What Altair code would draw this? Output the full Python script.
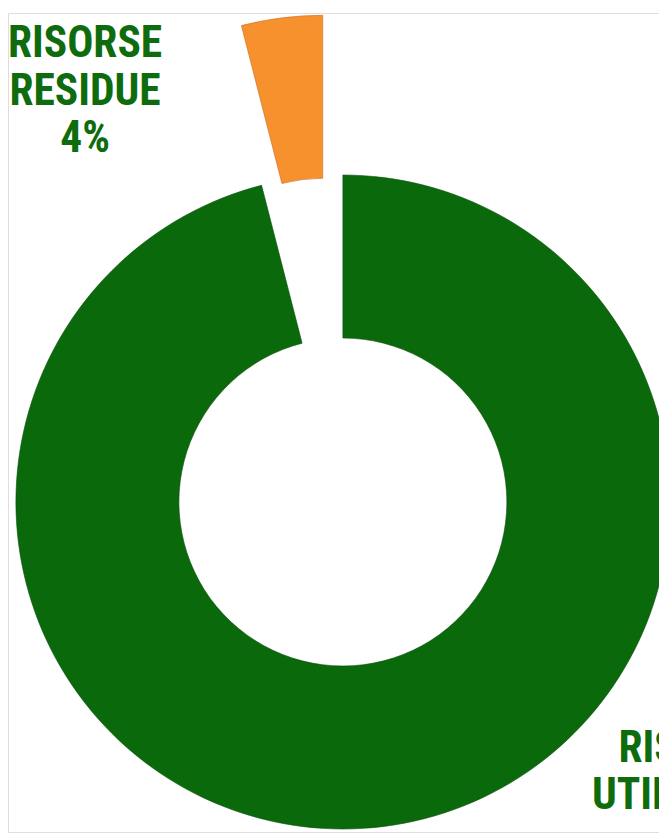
import math
import altair as alt
import pandas as pd

# ---- data ----
categories = ["RISORSE UTILIZZATE", "RISORSE RESIDUE"]
values = [96, 4]
order = [0, 1]

df = pd.DataFrame({"category": categories, "value": values, "order": order})

GREEN = "#0A690A"
ORANGE = "#F7912E"
TEXT_GREEN = "#0E6C0E"
colors = [GREEN, ORANGE]

W, H = 659, 829
CX, CY = 339, 495
R_OUT, R_IN = 331, 166
EXPLODE = 163

total = sum(values)
start_frac = values[0] / total
mid = (start_frac + 1.0) / 2 * 2 * math.pi
ox = CX + EXPLODE * math.sin(mid)
oy = CY - EXPLODE * math.cos(mid)

base = (
    alt.Chart(df)
    .transform_joinaggregate(total="sum(value)")
    .transform_window(cum="sum(value)", sort=[alt.SortField("order")], frame=[None, 0])
    .transform_calculate(
        start="(datum.cum - datum.value) / datum.total",
        end="datum.cum / datum.total",
        label="split(datum.category + ' ' + format(datum.value / datum.total, '.0%'), ' ')",
    )
)

theta = alt.Theta("start:Q", scale=alt.Scale(domain=[0, 1], range=[0, 2 * math.pi]))
color = alt.Color("category:N", scale=alt.Scale(domain=categories, range=colors), legend=None)

green_arc = base.transform_filter(alt.datum.category == categories[0]).mark_arc(
    innerRadius=R_IN, outerRadius=R_OUT, clip=True, stroke="#0b4d0b", strokeWidth=0.6
).encode(theta=theta, theta2="end:Q", color=color, x=alt.value(CX), y=alt.value(CY))

orange_arc = base.transform_filter(alt.datum.category == categories[1]).mark_arc(
    innerRadius=R_IN, outerRadius=R_OUT, clip=True, stroke="#c8671a", strokeWidth=0.6
).encode(theta=theta, theta2="end:Q", color=color, x=alt.value(ox), y=alt.value(oy))

text_kw = dict(
    font="Roboto Condensed, DejaVu Sans Condensed",
    fontSize=44,
    fontWeight="bold",
    lineHeight=48,
    align="center",
    baseline="alphabetic",
    color=TEXT_GREEN,
)

label_res = base.transform_filter(alt.datum.category == categories[1]).mark_text(**text_kw).encode(
    text="label:N", x=alt.value(78), y=alt.value(45)
)
label_used = base.transform_filter(alt.datum.category == categories[0]).mark_text(**text_kw).encode(
    text="label:N", x=alt.value(696), y=alt.value(758)
)

chart = (
    alt.layer(green_arc, orange_arc, label_res, label_used)
    .properties(width=W, height=H, padding=0, autosize=alt.AutoSizeParams(type="none"))
    .configure_view(stroke="transparent", strokeWidth=0)
    .configure(background="white")
)

chart.save("out.html", embed_options={"renderer": "svg", "actions": False})
